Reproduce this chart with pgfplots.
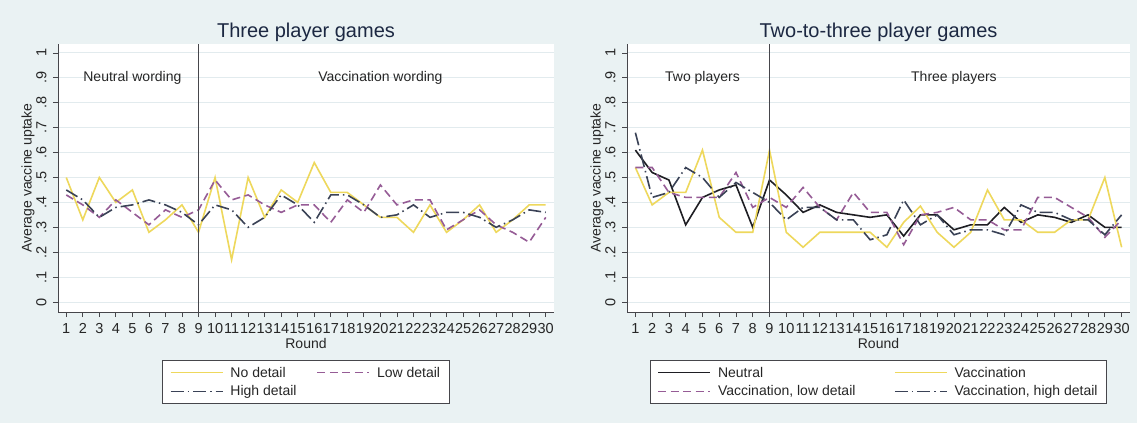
\documentclass[border=0pt]{standalone}
\usepackage{fontspec}
\setmainfont{Liberation Sans}
\usepackage{pgfplots}
\usepackage{pgfplotstable}
\pgfplotsset{compat=1.18}

\definecolor{bgc}{RGB}{234,242,243}
\definecolor{gridc}{RGB}{226,235,238}
\definecolor{ylw}{RGB}{238,216,92}
\definecolor{prp}{RGB}{150,92,150}
\definecolor{drk}{RGB}{58,66,86}
\definecolor{blk}{RGB}{30,30,35}
\definecolor{ttl}{RGB}{28,40,66}
\definecolor{axc}{RGB}{70,70,75}

\pgfplotstableread{
r nodet lowdet highdet
1  0.50 0.43 0.45
2  0.33 0.39 0.41
3  0.50 0.34 0.34
4  0.40 0.41 0.38
5  0.45 0.36 0.39
6  0.28 0.31 0.41
7  0.33 0.37 0.39
8  0.39 0.34 0.36
9  0.28 0.37 0.31
10 0.50 0.49 0.39
11 0.17 0.41 0.37
12 0.50 0.43 0.30
13 0.34 0.39 0.34
14 0.45 0.36 0.43
15 0.40 0.39 0.39
16 0.56 0.39 0.32
17 0.44 0.32 0.43
18 0.44 0.41 0.43
19 0.39 0.36 0.39
20 0.34 0.47 0.34
21 0.34 0.39 0.35
22 0.28 0.41 0.39
23 0.39 0.41 0.34
24 0.28 0.29 0.36
25 0.33 0.33 0.36
26 0.39 0.37 0.34
27 0.28 0.31 0.30
28 0.33 0.28 0.33
29 0.39 0.24 0.37
30 0.39 0.34 0.36
}\threetab

\pgfplotstableread{
r neutral vacc vlow vhigh
1  0.61 0.54 0.54 0.68
2  0.52 0.39 0.54 0.42
3  0.49 0.44 0.44 0.44
4  0.31 0.44 0.42 0.54
5  0.42 0.61 0.42 0.50
6  0.45 0.34 0.42 0.42
7  0.47 0.28 0.52 0.48
8  0.30 0.28 0.38 0.44
9  0.49 0.61 0.42 0.40
10 0.43 0.28 0.38 0.33
11 0.36 0.22 0.46 0.38
12 0.39 0.28 0.38 0.38
13 0.36 0.28 0.33 0.33
14 0.35 0.28 0.44 0.33
15 0.34 0.28 0.36 0.25
16 0.35 0.22 0.36 0.27
17 0.265 0.32 0.23 0.41
18 0.35 0.385 0.35 0.31
19 0.35 0.28 0.36 0.35
20 0.29 0.22 0.38 0.27
21 0.31 0.28 0.33 0.29
22 0.31 0.45 0.33 0.29
23 0.38 0.33 0.29 0.27
24 0.32 0.33 0.29 0.39
25 0.35 0.28 0.42 0.36
26 0.34 0.28 0.42 0.36
27 0.32 0.33 0.38 0.33
28 0.35 0.33 0.34 0.33
29 0.30 0.50 0.26 0.27
30 0.30 0.22 0.33 0.35
}\twothreetab

\pgfplotsset{
  statastyle/.style={
    scale only axis,
    height=268pt,
    xmin=0.5, xmax=30.5,
    ymin=-0.04, ymax=1.036,
    axis x line*=bottom, axis y line*=left,
    axis line style={-, draw=axc, line width=0.8pt},
    axis background/.style={fill=white},
    xtick={1,...,30},
    ytick={0,0.1,0.2,0.3,0.4,0.5,0.6,0.7,0.8,0.9,1},
    yticklabels={0,.1,.2,.3,.4,.5,.6,.7,.8,.9,1},
    /pgf/number format/assume math mode=true,
    tick align=outside,
    major tick length=5pt,
    tick style={draw=axc, line width=0.8pt},
    ymajorgrids, xmajorgrids=false,
    major grid style={draw=gridc, line width=1pt},
    xticklabel shift=3pt,
    yticklabel shift=3pt,
    xticklabel style={font=\fontsize{14.5}{16}\selectfont, inner xsep=0pt, text=black!85},
    yticklabel style={font=\fontsize{14.5}{16}\selectfont, rotate=90, anchor=south, text=black!85},
    every axis y label/.style={at={(axis description cs:0,0.5)}, xshift=-30pt, rotate=90, anchor=center, font=\fontsize{14}{16}\selectfont, text=black!85},
    every axis x label/.style={at={(axis description cs:0.5,0)}, yshift=-31pt, anchor=center, font=\fontsize{14}{16}\selectfont, text=black!85},
    title style={font=\fontsize{20}{22}\selectfont, text=ttl, at={(axis description cs:0.5,1)}, anchor=south, yshift=-7pt},
    xlabel={Round},
    ylabel={Average vaccine uptake},
    legend columns=2,
    legend cell align=left,
    legend image code/.code={\draw[##1, line width=1.6pt] (0pt,0pt) -- (52pt,0pt);},
    legend style={at={(0.5,-0.179)}, anchor=north, draw=axc, line width=0.8pt, fill=white,
      font=\fontsize{14}{16}\selectfont, inner xsep=7pt, inner ysep=4.5pt, row sep=3pt,
      nodes={inner sep=2pt, text=black!85},
      /tikz/every odd column/.append style={column sep=5pt}},
  },
  ylw line/.style={draw=ylw, line width=1.6pt},
  prp line/.style={draw=prp, line width=1.6pt, dash pattern=on 8pt off 4.5pt},
  drk line/.style={draw=drk, line width=1.6pt, dash pattern=on 13pt off 4pt on 1.5pt off 4pt},
  blk line/.style={draw=blk, line width=1.6pt},
}

\begin{document}
\begin{tikzpicture}[x=1pt,y=1pt]
\useasboundingbox (0,0) rectangle (1137,423);
\fill[bgc] (0,0) rectangle (1137,423);

\begin{axis}[statastyle, width=496pt, at={(58pt,111pt)}, anchor=south west,
  title={Three player games}]
  \addplot[ylw line] table[x=r, y=nodet] {\threetab};
  \addlegendentry{\makebox[84pt][l]{No detail}}
  \addplot[prp line] table[x=r, y=lowdet] {\threetab};
  \addlegendentry{Low detail}
  \addplot[drk line] table[x=r, y=highdet] {\threetab};
  \addlegendentry{High detail}
  \draw[axc, line width=0.9pt] (axis cs:9,-0.04) -- (axis cs:9,1.036);
  \node[font=\fontsize{14}{16}\selectfont, text=black!85] at (axis cs:5,0.9) {Neutral wording};
  \node[font=\fontsize{14}{16}\selectfont, text=black!85] at (axis cs:20,0.9) {Vaccination wording};
\end{axis}

\begin{axis}[statastyle, width=503pt, at={(627pt,111pt)}, anchor=south west,
  title={Two-to-three player games}]
  \addplot[blk line] table[x=r, y=neutral] {\twothreetab};
  \addlegendentry{\makebox[174pt][l]{Neutral}}
  \addplot[ylw line] table[x=r, y=vacc] {\twothreetab};
  \addlegendentry{Vaccination}
  \addplot[prp line] table[x=r, y=vlow] {\twothreetab};
  \addlegendentry{Vaccination, low detail}
  \addplot[drk line] table[x=r, y=vhigh] {\twothreetab};
  \addlegendentry{Vaccination, high detail}
  \draw[axc, line width=0.9pt] (axis cs:9,-0.04) -- (axis cs:9,1.036);
  \node[font=\fontsize{14}{16}\selectfont, text=black!85] at (axis cs:5,0.9) {Two players};
  \node[font=\fontsize{14}{16}\selectfont, text=black!85] at (axis cs:20,0.9) {Three players};
\end{axis}
\end{tikzpicture}
\end{document}
